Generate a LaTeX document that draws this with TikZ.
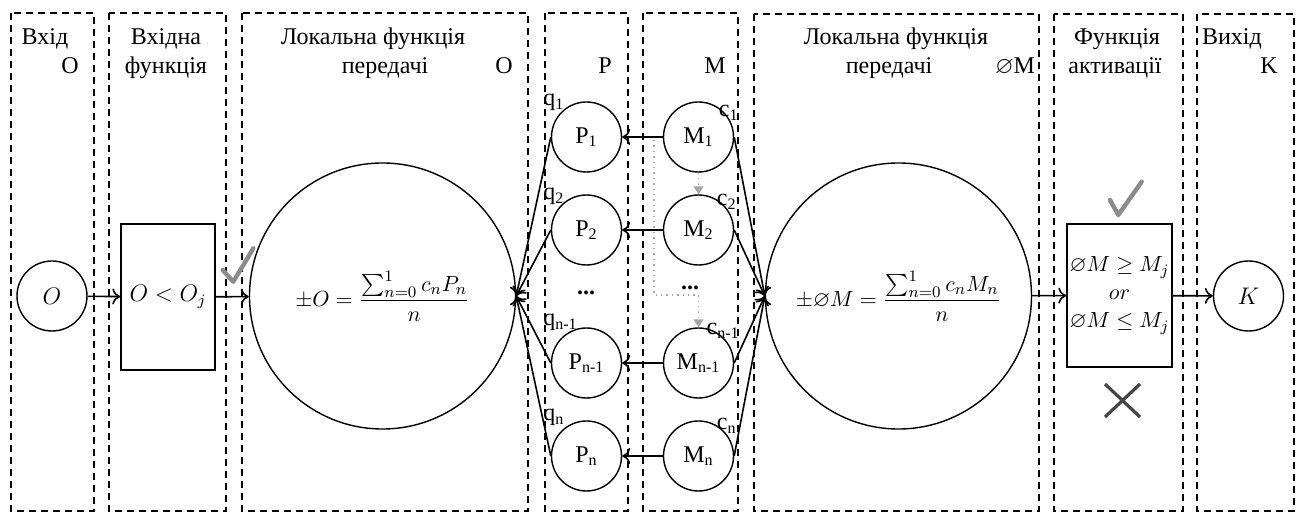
\documentclass[tikz,border=0pt]{standalone}
\usepackage{amsmath,amssymb}
\usepackage{fontspec}
\setmainfont{Liberation Serif}
\usetikzlibrary{arrows.meta}
\definecolor{chk}{gray}{0.55}
\definecolor{crs}{gray}{0.27}
\definecolor{dotc}{gray}{0.65}
\begin{document}
\begin{tikzpicture}[x=0.5pt,y=-0.5pt,
  col/.style={draw, dash pattern=on 3.5pt off 2.5pt, line width=0.7pt},
  hdr/.style={font=\fontsize{12}{14}\selectfont, anchor=base, inner sep=0pt},
  lbl/.style={font=\fontsize{12}{14}\selectfont, inner sep=0pt},
  sm/.style={circle, draw, line width=0.7pt, minimum size=35pt, inner sep=0pt, font=\fontsize{12}{14}\selectfont},
  big/.style={circle, draw, line width=0.7pt, minimum size=133pt, inner sep=0pt, font=\fontsize{11}{13}\selectfont},
  fbox/.style={draw, rectangle, line width=0.7pt, inner sep=0pt, align=center},
  arr/.style={-{To[length=4pt,width=8pt]}, line width=0.8pt},
  dotline/.style={draw=dotc, dotted, line width=0.7pt, -{Triangle[length=4pt,width=5pt,fill=dotc,color=dotc]}},
  chkmark/.style={draw=chk, line width=2.2pt, line cap=round, line join=round},
  crossmark/.style={draw=crs, line width=1.6pt}
]
\useasboundingbox (0,0) rectangle (1301,512);
% columns
\draw[col] (11,13) rectangle (94,511);
\draw[col] (109,13) rectangle (226,511);
\draw[col] (242,13) rectangle (528,511);
\draw[col] (545,13) rectangle (628,511);
\draw[col] (643,13) rectangle (738,511);
\draw[col] (754,14) rectangle (1039,511);
\draw[col] (1054,14) rectangle (1183,511);
\draw[col] (1197,14) rectangle (1294,511);
% headers
\node[hdr] (h1a) at (45,45) {Вхід};
\node[hdr] (h1b) at (70,74) {O};
\node[hdr] (h2a) at (166,45) {Вхідна};
\node[hdr] (h2b) at (166,74) {функція};
\node[hdr] (h3a) at (373,45) {Локальна функція};
\node[hdr] (h3b) at (385,74) {передачі};
\node[hdr] (h3c) at (504,74) {O};
\node[hdr] (h4) at (605,74) {P};
\node[hdr] (h5) at (715,74) {M};
\node[hdr] (h6a) at (896,45) {Локальна функція};
\node[hdr] (h6b) at (889,74) {передачі};
\node[hdr] (h6c) at (1015,74) {$\varnothing$M};
\node[hdr] (h7a) at (1117,45) {Функція};
\node[hdr] (h7b) at (1115,74) {активації};
\node[hdr] (h8a) at (1232,45) {Вихід};
\node[hdr] (h8b) at (1269,74) {K};
% main nodes
\node[sm] (O) at (52,296) {$O$};
\node[fbox, minimum width=47pt, minimum height=73pt, font=\fontsize{12}{14}\selectfont] (f1) at (168,297) {$O<O_j$};
\node[big] (L1) at (382.5,296) {$\pm O=\dfrac{\sum_{n=0}^{1}c_nP_n}{n}$};
\node[big] (L2) at (898.5,296) {$\pm\varnothing M=\dfrac{\sum_{n=0}^{1}c_nM_n}{n}$};
\node[fbox, minimum width=52.5pt, minimum height=71.5pt, font=\fontsize{11}{13}\selectfont] (f2) at (1119.5,295.5) {$\varnothing M\geq M_j$\\[1pt]$or$\\[1pt]$\varnothing M\leq M_j$};
\node[sm] (K) at (1248.5,296) {$K$};
% P and M
\node[sm] (P1) at (586.5,137) {P\textsubscript{1}};
\node[sm] (P2) at (586.5,230) {P\textsubscript{2}};
\node[sm] (Pn1) at (586.5,363) {P\textsubscript{n-1}};
\node[sm] (Pn) at (586.5,456) {P\textsubscript{n}};
\node[sm] (M1) at (698.5,137) {M\textsubscript{1}};
\node[sm] (M2) at (698.5,230) {M\textsubscript{2}};
\node[sm] (Mn1) at (698.5,363) {M\textsubscript{n-1}};
\node[sm] (Mn) at (698.5,456) {M\textsubscript{n}};
\node[lbl] (pd) at (586,293) {\textbf{...}};
\node[lbl] (md) at (690,288) {\textbf{...}};
% labels
\node[lbl, anchor=base west] (q1) at (543,106) {q\textsubscript{1}};
\node[lbl, anchor=base west] (q2) at (543,200) {q\textsubscript{2}};
\node[lbl, anchor=base west] (qn1) at (543,326) {q\textsubscript{n-1}};
\node[lbl, anchor=base west] (qn) at (543,421) {q\textsubscript{n}};
\node[lbl, anchor=base east] (c1) at (739,117) {c\textsubscript{1}};
\node[lbl, anchor=base east] (c2) at (737,206) {c\textsubscript{2}};
\node[lbl, anchor=base east] (cn1) at (740,335) {c\textsubscript{n-1}};
\node[lbl, anchor=base east] (cn) at (737,430) {c\textsubscript{n}};
% connectors
\draw[arr] (O) -- (f1);
\draw[arr] (f1) -- (L1);
\draw[arr] (L2) -- (f2);
\draw[arr] (f2) -- (K);
\foreach \i in {1,2,n1,n}{
  \draw[arr] (M\i) -- (P\i);
  \draw[arr] (P\i.west) -- (L1.east);
  \draw[arr] (M\i.east) -- (L2.west);
}
\draw[dotline] (M1.south) -- (M2.north);
\coordinate (d0) at (654,140);
\coordinate (d1) at (654,295);
\draw[dotline] (d0) -- (d1) -| (Mn1.north);
% marks
\draw[chkmark] (222.7,270) -- (233.3,281.7) -- (253.3,248.3);
\draw[chkmark] (1110,200) -- (1118.3,215) -- (1141.7,181.7);
\draw[crossmark] (1105,384) -- (1140,417) (1140,384) -- (1105,417);
\end{tikzpicture}
\end{document}
